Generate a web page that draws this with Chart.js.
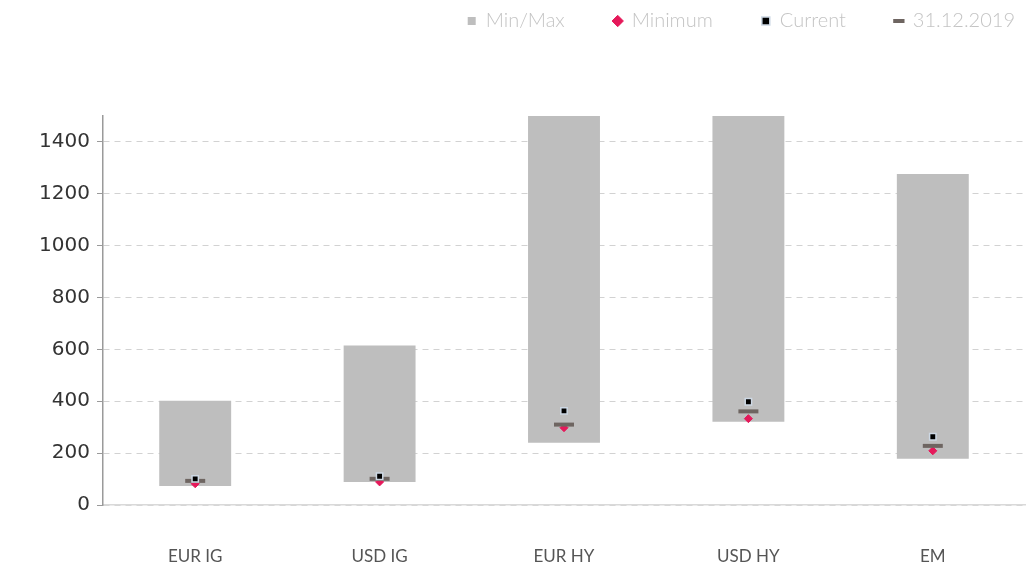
<!DOCTYPE html>
<html>
<head>
<meta charset="utf-8">
<script src="https://cdn.jsdelivr.net/npm/chart.js@4.4.1/dist/chart.umd.min.js"></script>
<style>
  html, body { margin: 0; padding: 0; background: #fff; }
  #wrap { width: 1030px; height: 566px; }
</style>
</head>
<body>
<div id="wrap"><canvas id="spreadChart"></canvas></div>
<script>
const categories = ["EUR IG", "USD IG", "EUR HY", "USD HY", "EM"];
const rangeLow = [73, 89, 240, 321, 178];
const rangeHigh = [402, 615, 1700, 1850, 1276];
const minimumValues = [82, 89, 298, 333, 209];
const currentValues = [101, 111, 363, 398, 263];
const endOf2019 = [93, 101, 310, 361, 228];
const yTicks = [0, 200, 400, 600, 800, 1000, 1200, 1400];

let spreadChart = null;

// push the plot area down under the legend, and nudge the legend row up/right
const legendGap = {
  id: "legendGap",
  beforeInit(chart) {
    const legend = chart.legend;
    const fit = legend.fit;
    legend.fit = function () {
      fit.bind(legend)();
      this.height += 37;
    };
    const draw = legend.draw;
    legend.draw = function () {
      const ctx = chart.ctx;
      ctx.save();
      ctx.translate(39, -38);
      draw.bind(legend)();
      ctx.restore();
    };
  },
};

document.addEventListener("DOMContentLoaded", () => {
  initSpreadChart();
});

function initSpreadChart() {
  const el = document.getElementById("spreadChart");
  if (!el) return;
  if (spreadChart) spreadChart.destroy();

  spreadChart = new Chart(el, {
    data: {
      labels: categories,
      datasets: [
        {
          type: "bar",
          label: "Min/Max",
          data: rangeLow.map((lo, i) => [lo, rangeHigh[i]]),
          backgroundColor: "#bebebe",
          borderColor: "#bebebe",
          borderWidth: 0,
          pointStyle: "rect",
          barPercentage: 0.39,
          categoryPercentage: 1,
          order: 10,
        },
        {
          type: "line",
          label: "Minimum",
          data: minimumValues,
          showLine: false,
          pointStyle: "rectRot",
          pointRadius: 4,
          backgroundColor: "#e5195a",
          borderColor: "#e5195a",
          borderWidth: 1,
          order: 3,
        },
        {
          type: "line",
          label: "Current",
          data: currentValues,
          showLine: false,
          pointStyle: "rect",
          pointRadius: 4.5,
          backgroundColor: "#000000",
          borderColor: "#cdd8e4",
          borderWidth: 1.5,
          order: 1,
        },
        {
          type: "line",
          label: "31.12.2019",
          data: endOf2019,
          showLine: false,
          pointStyle: "line",
          pointRadius: 10,
          backgroundColor: "#6e6561",
          borderColor: "#6e6561",
          borderWidth: 4,
          order: 2,
        },
      ],
    },
    options: {
      responsive: true,
      maintainAspectRatio: false,
      animation: false,
      layout: { autoPadding: false, padding: { left: 0, right: 5, top: 0, bottom: 0 } },
      plugins: {
        tooltip: { enabled: false },
        legend: {
          position: "top",
          align: "end",
          labels: {
            usePointStyle: true,
            boxWidth: 8,
            boxHeight: 8,
            padding: 49,
            color: "#c4c4c4",
            font: { family: "Lato", size: 20, weight: "300" },
            sort: (a, b) => a.datasetIndex - b.datasetIndex,
          },
        },
      },
      scales: {
        x: {
          afterFit: (scale) => {
            scale.height = 61;
          },
          grid: { display: false },
          border: { color: "#d9d9d9", width: 1.5 },
          ticks: {
            color: "#555555",
            padding: 33,
            font: { family: "Lato", size: 17 },
          },
        },
        y: {
          min: 0,
          max: 1500,
          afterBuildTicks: (axis) => {
            axis.ticks = yTicks.map((v) => ({ value: v }));
          },
          afterFit: (scale) => {
            scale.width = 103;
          },
          grid: {
            color: "#d2d2d2",
            tickColor: "#9a9a9a",
            tickLength: 6,
            tickBorderDash: [],
            lineWidth: 1,
          },
          border: { color: "#9a9a9a", width: 1.5, dash: [6, 5] },
          ticks: {
            color: "#333333",
            padding: 7,
            callback: (v) => String(v),
            font: { family: "DejaVu Sans", size: 20 },
          },
        },
      },
    },
    plugins: [legendGap],
  });
}
</script>
</body>
</html>
